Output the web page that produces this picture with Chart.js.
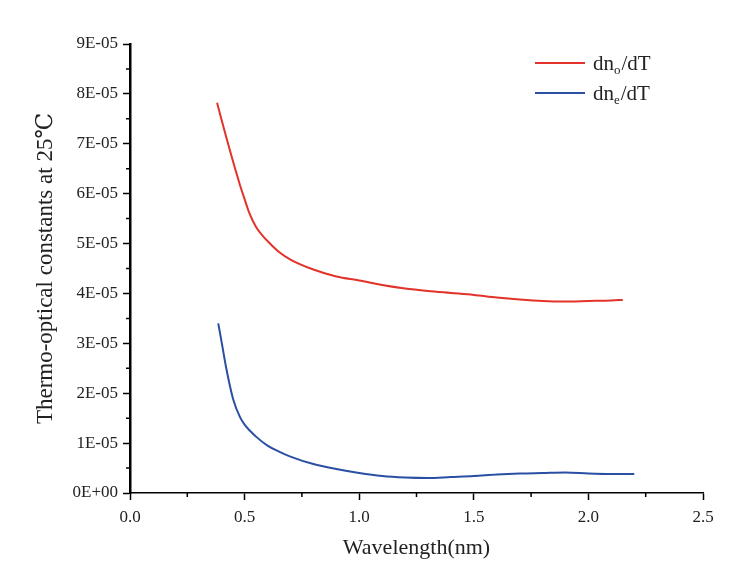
<!DOCTYPE html>
<html>
<head>
<meta charset="utf-8">
<script src="https://cdn.jsdelivr.net/npm/chart.js@4.4.1/dist/chart.umd.min.js"></script>
<style>
  body { margin: 0; background: #fff; }
  #wrap { width: 756px; height: 572px; }
</style>
</head>
<body>
<div id="wrap"><canvas id="chart" width="756" height="572"></canvas></div>
<script>
// series (wavelength in um, values in 1/K)
const seriesNames = ['dn_o/dT', 'dn_e/dT'];

const wlOrdinary = [0.38, 0.40, 0.42, 0.44, 0.46, 0.48, 0.50, 0.52, 0.55, 0.58, 0.60, 0.65, 0.70,
                    0.80, 0.90, 1.00, 1.10, 1.20, 1.30, 1.40, 1.50, 1.60, 1.70, 1.80, 1.90, 2.00,
                    2.10, 2.15];
const dnoDT = [7.82e-5, 7.47e-5, 7.13e-5, 6.80e-5, 6.48e-5, 6.17e-5, 5.89e-5, 5.62e-5, 5.33e-5,
               5.15e-5, 5.05e-5, 4.83e-5, 4.68e-5, 4.48e-5, 4.34e-5, 4.26e-5, 4.17e-5, 4.10e-5,
               4.05e-5, 4.01e-5, 3.97e-5, 3.92e-5, 3.88e-5, 3.85e-5, 3.84e-5, 3.85e-5, 3.86e-5,
               3.87e-5];

const wlExtra = [0.385, 0.40, 0.42, 0.45, 0.48, 0.50, 0.55, 0.60, 0.65, 0.70, 0.80, 0.90, 1.00,
                 1.10, 1.20, 1.30, 1.40, 1.50, 1.60, 1.70, 1.80, 1.90, 2.00, 2.10, 2.20];
const dneDT = [3.40e-5, 3.02e-5, 2.50e-5, 1.88e-5, 1.52e-5, 1.37e-5, 1.13e-5, 0.95e-5, 0.83e-5,
               0.73e-5, 0.58e-5, 0.48e-5, 0.40e-5, 0.34e-5, 0.31e-5, 0.30e-5, 0.32e-5, 0.34e-5,
               0.37e-5, 0.39e-5, 0.40e-5, 0.41e-5, 0.39e-5, 0.38e-5, 0.38e-5];

const xTickLabels = ['0.0', '0.5', '1.0', '1.5', '2.0', '2.5'];
const yTickLabels = ['0E+00', '1E-05', '2E-05', '3E-05', '4E-05', '5E-05', '6E-05', '7E-05', '8E-05', '9E-05'];

const serif = '"Liberation Serif", "DejaVu Serif", serif';

function toPoints(xs, ys) {
  return xs.map(function (x, i) { return { x: x, y: ys[i] }; });
}

// minor ticks halfway between the labelled ones
const minorTicks = {
  id: 'minorTicks',
  afterDraw: function (chart) {
    const ctx = chart.ctx;
    const xs = chart.scales.x, ys = chart.scales.y;
    const area = chart.chartArea;
    ctx.save();
    ctx.strokeStyle = '#000';
    ctx.lineWidth = 1.5;
    ctx.beginPath();
    for (let v = 0.25; v < 2.5; v += 0.5) {
      const px = xs.getPixelForValue(v);
      ctx.moveTo(px, area.bottom);
      ctx.lineTo(px, area.bottom + 4);
    }
    for (let k = 0; k < yTickLabels.length - 1; k++) {
      const py = ys.getPixelForValue((k + 0.5) * 1e-5);
      ctx.moveTo(area.left, py);
      ctx.lineTo(area.left - 4, py);
    }
    ctx.stroke();
    ctx.restore();
  }
};

// legend with subscripted labels
const subLegend = {
  id: 'subLegend',
  afterDraw: function (chart) {
    const ctx = chart.ctx;
    ctx.save();
    chart.data.datasets.forEach(function (ds, i) {
      const y = 63 + i * 30;
      ctx.strokeStyle = ds.borderColor;
      ctx.lineWidth = 2;
      ctx.beginPath();
      ctx.moveTo(535, y);
      ctx.lineTo(585, y);
      ctx.stroke();

      const parts = seriesNames[i].match(/^(.*)_(.)(.*)$/);
      let x = 593;
      ctx.fillStyle = '#222';
      ctx.textBaseline = 'alphabetic';
      ctx.font = '21px ' + serif;
      ctx.fillText(parts[1], x, y + 7);
      x += ctx.measureText(parts[1]).width;
      ctx.font = '13px ' + serif;
      ctx.fillText(parts[2], x, y + 11);
      x += ctx.measureText(parts[2]).width + 1;
      ctx.font = '21px ' + serif;
      ctx.fillText(parts[3], x, y + 7);
    });
    ctx.restore();
  }
};

const ctx = document.getElementById('chart');
const myChart = new Chart(ctx, {
  type: 'line',
  data: {
    datasets: [
      {
        label: 'dno/dT',
        data: toPoints(wlOrdinary, dnoDT),
        borderColor: '#e2332a',
        borderWidth: 2,
        pointRadius: 0,
        cubicInterpolationMode: 'monotone',
        fill: false
      },
      {
        label: 'dne/dT',
        data: toPoints(wlExtra, dneDT),
        borderColor: '#2a4fa3',
        borderWidth: 2,
        pointRadius: 0,
        cubicInterpolationMode: 'monotone',
        fill: false
      }
    ]
  },
  options: {
    responsive: false,
    animation: false,
    layout: { padding: { top: 44, right: 53, left: 0, bottom: 0 } },
    plugins: {
      legend: { display: false },
      tooltip: { enabled: false }
    },
    scales: {
      x: {
        type: 'linear',
        min: 0,
        max: 2.5,
        afterFit: function (s) { s.height = 79; },
        border: { color: '#000', width: 1.5 },
        grid: { drawOnChartArea: false, tickLength: 7, tickWidth: 1.5, tickColor: '#000' },
        ticks: {
          stepSize: 0.5,
          padding: 7,
          color: '#222',
          font: { family: serif, size: 17 },
          callback: function (v, i) { return xTickLabels[i]; }
        },
        title: {
          display: true,
          text: 'Wavelength(nm)',
          color: '#222',
          font: { family: serif, size: 22 },
          padding: { top: 0, bottom: 11 }
        }
      },
      y: {
        min: 0,
        max: 9e-5,
        afterFit: function (s) { s.width = 130; },
        border: { color: '#000', width: 2.5 },
        grid: { drawOnChartArea: false, tickLength: 7, tickWidth: 1.5, tickColor: '#000' },
        ticks: {
          stepSize: 1e-5,
          padding: 5,
          color: '#222',
          font: { family: serif, size: 17 },
          callback: function (v, i) { return yTickLabels[i]; }
        },
        title: {
          display: true,
          text: 'Thermo-optical constants at 25℃',
          color: '#222',
          font: { family: serif, size: 23 },
          padding: { top: 32, bottom: 0 }
        }
      }
    }
  },
  plugins: [minorTicks, subLegend]
});
</script>
</body>
</html>
